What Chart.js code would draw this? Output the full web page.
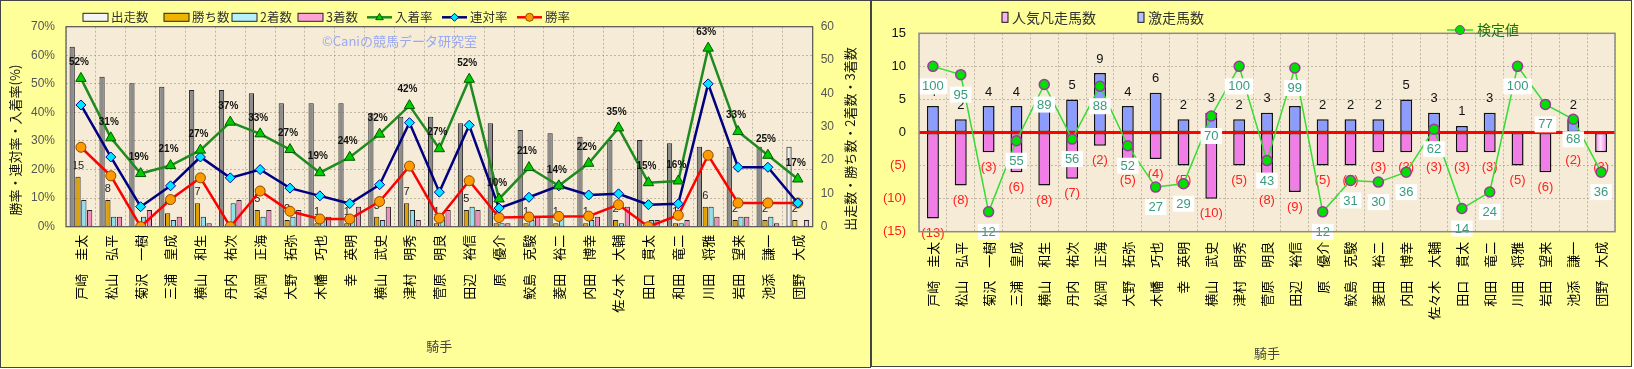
<!DOCTYPE html>
<html><head><meta charset="utf-8">
<script src="https://cdn.jsdelivr.net/npm/chart.js@4"></script>
<style>
html,body{margin:0;padding:0;background:#fff;}
#w1{position:absolute;left:0;top:0;width:871px;height:368px;box-sizing:border-box;border:1px solid #444;background:#ffff99;}
#w2{position:absolute;left:871px;top:0;width:761px;height:367px;box-sizing:border-box;border:1px solid #444;background:#ffff99;}
canvas{display:block;}
</style></head><body>
<div id="w1"><canvas id="c1" width="869" height="366"></canvas></div>
<div id="w2"><canvas id="c2" width="759" height="365"></canvas></div>
<script>
// ---------- data ----------
const jockeys = ['戸崎　圭太','松山　弘平','菊沢　一樹','三浦　皇成','横山　和生','丹内　祐次','松岡　正海','大野　拓弥','木幡　巧也','幸　英明','横山　武史','津村　明秀','菅原　明良','田辺　裕信','原　優介','鮫島　克駿','菱田　裕二','内田　博幸','佐々木　大輔','田口　貫太','和田　竜二','川田　将雅','岩田　望来','池添　謙一','団野　大成'];
const starts  = [54,45,43,42,41,41,40,37,37,37,34,33,33,31,31,29,28,27,26,26,25,24,24,24,24];
const wins    = [15,8,0,4,7,0,5,2,1,1,3,7,1,5,1,1,1,1,2,0,1,6,2,2,2];
const seconds = [8,3,3,2,3,7,3,3,3,2,2,5,3,6,1,2,3,2,1,2,1,6,3,3,0];
const thirds  = [5,3,5,3,1,8,5,5,3,6,6,2,5,5,1,3,0,3,6,2,2,3,3,1,2];
const winRate    = [27.8,17.8,0,9.5,17.1,0,12.5,5.4,2.7,2.7,8.8,21.2,3.0,16.1,3.2,3.4,3.6,3.7,7.7,0,4.0,25.0,8.3,8.3,8.3];
const rentaiRate = [42.6,24.4,7.0,14.3,24.4,17.1,20.0,13.5,10.8,8.1,14.7,36.4,12.1,35.5,6.5,10.3,14.3,11.1,11.5,7.7,8.0,50.0,20.8,20.8,8.3];
const placeRate  = [51.9,31.1,18.6,21.4,26.8,36.6,32.5,27.0,18.9,24.3,32.4,42.4,27.3,51.6,9.7,20.7,14.3,22.2,34.6,15.4,16.0,62.5,33.3,25.0,16.7];
const shadedJockeys = ['和田　竜二','池添　謙一','団野　大成'];

const popularFail = [-13,-8,-3,-6,-8,-7,-2,-5,-4,-5,-10,-5,-8,-9,-5,-5,-3,-3,-3,-3,-3,-5,-6,-2,-3];
const surge       = [4,2,4,4,5,5,9,4,6,2,3,2,3,4,2,2,2,5,3,1,3,0,2,2,0];
const testValue   = [100,95,12,55,89,56,88,52,27,29,70,100,43,99,12,31,30,36,62,14,24,100,77,68,36];

const leftTicks  = [0,10,20,30,40,50,60,70];
const rightTicks = [0,10,20,30,40,50,60];
const r2Ticks    = [-15,-10,-5,0,5,10,15];

// ---------- helpers ----------
const JP = "'Noto Sans CJK JP', sans-serif";
const NUM = "'Liberation Sans', Arial, sans-serif";
const PLOT_BG = '#f5ebd6';
const GRID = 'rgba(150,140,120,0.55)';

function vText(ctx, text, x, y, font, color){
  ctx.save(); ctx.translate(x, y); ctx.rotate(-Math.PI/2);
  ctx.font = font; ctx.fillStyle = color; ctx.textAlign = 'center'; ctx.textBaseline = 'middle';
  ctx.fillText(text, 0, 0); ctx.restore();
}
function drawMarker(ctx, style, x, y, r, fill, stroke){
  ctx.save(); ctx.fillStyle = fill; ctx.strokeStyle = stroke; ctx.lineWidth = 1;
  ctx.beginPath();
  if (style === 'triangle'){ ctx.moveTo(x, y - r); ctx.lineTo(x + r*0.95, y + r*0.6); ctx.lineTo(x - r*0.95, y + r*0.6); ctx.closePath(); }
  else if (style === 'rectRot'){ ctx.moveTo(x, y - r); ctx.lineTo(x + r, y); ctx.lineTo(x, y + r); ctx.lineTo(x - r, y); ctx.closePath(); }
  else { ctx.arc(x, y, r, 0, Math.PI*2); }
  ctx.fill(); ctx.stroke(); ctx.restore();
}
// cylinder-like shading for bars: edge colour -> light centre -> edge colour
function shadeBars(chart, dsIndex, edgeFn, centre){
  const ctx = chart.ctx, meta = chart.getDatasetMeta(dsIndex);
  meta.data.forEach((el, i) => {
    const edge = edgeFn(i);
    const w = el.width || 1;
    const g = ctx.createLinearGradient(el.x - w/2, 0, el.x + w/2, 0);
    g.addColorStop(0, edge); g.addColorStop(0.45, centre); g.addColorStop(1, edge);
    el.options.backgroundColor = g;
  });
}

// ---------- left chart ----------
const leftPlugin = {
  id: 'leftDeco',
  beforeDraw(chart){
    const {ctx, chartArea:a} = chart;
    ctx.save(); ctx.fillStyle = PLOT_BG; ctx.fillRect(a.left, a.top, a.right-a.left, a.bottom-a.top); ctx.restore();
  },
  beforeDatasetsDraw(chart){
    const ctx = chart.ctx;
    ctx.save(); ctx.font = '13px ' + JP; ctx.fillStyle = '#9aa8f2'; ctx.textBaseline = 'middle';
    ctx.fillText('©Caniの競馬データ研究室', 321, 40); ctx.restore();
  },
  beforeDatasetDraw(chart, args){
    if (args.index === 3) shadeBars(chart, 3, i => shadedJockeys.includes(jockeys[i]) ? '#8c8c8c' : '#cfcfcf', '#ffffff');
    if (args.index === 4) shadeBars(chart, 4, () => '#e0a000', '#ffd84a');
    if (args.index === 5) shadeBars(chart, 5, () => '#8fe0f0', '#e8fcff');
    if (args.index === 6) shadeBars(chart, 6, () => '#f08cc0', '#ffd0ea');
  },
  afterDatasetDraw(chart, args){
    if (args.index !== 4) return;
    const ctx = chart.ctx, meta = chart.getDatasetMeta(4);
    ctx.save(); ctx.font = '11px ' + NUM; ctx.fillStyle = '#222'; ctx.textAlign = 'center'; ctx.textBaseline = 'middle';
    meta.data.forEach((el, i) => { if (wins[i] > 0) ctx.fillText(String(wins[i]), el.x, el.y - 11); });
    ctx.restore();
  },
  afterDatasetsDraw(chart){
    const ctx = chart.ctx, meta = chart.getDatasetMeta(0);
    ctx.save(); ctx.font = 'bold 10px ' + NUM; ctx.fillStyle = '#111'; ctx.textAlign = 'center'; ctx.textBaseline = 'middle';
    meta.data.forEach((el, i) => ctx.fillText(Math.round(placeRate[i]) + '%', el.x - 2, el.y - 16));
    ctx.restore();
  },
  afterDraw(chart){
    const {ctx, chartArea:a} = chart;
    ctx.save(); ctx.strokeStyle = '#555'; ctx.lineWidth = 1.2;
    ctx.strokeRect(a.left, a.top, a.right-a.left, a.bottom-a.top); ctx.restore();
    vText(ctx, '勝率・連対率・入着率(%)', 14, 139, '13px ' + JP, '#111');
    vText(ctx, '出走数・勝ち数・2着数・3着数', 849, 138, '13px ' + JP, '#111');
    const items = [
      {x:82,  t:'bar', ds:3, c:'#f4f4f4'}, {x:163, t:'bar', ds:4, c:'#f0b400'}, {x:231, t:'bar', ds:5, c:'#b6f0fa'}, {x:297, t:'bar', ds:6, c:'#ffa2d4'},
      {x:366, t:'line', ds:0}, {x:441, t:'line', ds:1}, {x:516, t:'line', ds:2}
    ];
    const y = 16.3;
    ctx.save(); ctx.font = '12.5px ' + JP; ctx.textBaseline = 'middle';
    items.forEach(it => {
      const ds = chart.data.datasets[it.ds];
      if (it.t === 'bar'){
        ctx.fillStyle = it.c; ctx.fillRect(it.x, y - 4, 25, 8);
        ctx.strokeStyle = '#222'; ctx.lineWidth = 1; ctx.strokeRect(it.x, y - 4, 25, 8);
      } else {
        ctx.strokeStyle = ds.borderColor; ctx.lineWidth = 2.5;
        ctx.beginPath(); ctx.moveTo(it.x, y); ctx.lineTo(it.x + 25, y); ctx.stroke();
        drawMarker(ctx, ds.pointStyle, it.x + 12.5, y, 4, ds.pointBackgroundColor, ds.pointBorderColor);
      }
      ctx.fillStyle = '#333';
      ctx.fillText(ds.label, it.x + 28, y);
    });
    ctx.restore();
  }
};

const barOpts = {yAxisID:'y1', borderColor:'#222', borderWidth:1, borderSkipped:false, categoryPercentage:0.78, barPercentage:0.9, order:1};

new Chart(document.getElementById('c1'), {
  type: 'bar',
  data: {
    labels: jockeys,
    datasets: [
      {type:'line', label:'入着率', data:placeRate, yAxisID:'y', borderColor:'#1f8a1f', borderWidth:2.5, pointStyle:'triangle', pointRadius:6, pointBackgroundColor:'#00cc00', pointBorderColor:'#005a00', pointBorderWidth:1, order:0},
      {type:'line', label:'連対率', data:rentaiRate, yAxisID:'y', borderColor:'#000080', borderWidth:2.5, pointStyle:'rectRot', pointRadius:5, pointBackgroundColor:'#00e8ff', pointBorderColor:'#0000a0', pointBorderWidth:1, order:0},
      {type:'line', label:'勝率', data:winRate, yAxisID:'y', borderColor:'#ff0000', borderWidth:2.5, pointStyle:'circle', pointRadius:5, pointBackgroundColor:'#ff9a00', pointBorderColor:'#8a4a00', pointBorderWidth:1, order:0},
      Object.assign({label:'出走数', data:starts, backgroundColor:'#fafafa'}, barOpts),
      Object.assign({label:'勝ち数', data:wins, backgroundColor:'#f0b400'}, barOpts),
      Object.assign({label:'2着数', data:seconds, backgroundColor:'#b6f0fa'}, barOpts),
      Object.assign({label:'3着数', data:thirds, backgroundColor:'#ffa2d4'}, barOpts)
    ]
  },
  options: {
    responsive:false, animation:false,
    layout:{padding:{top:25.7, left:0, right:0, bottom:0}},
    plugins:{legend:{display:false}, tooltip:{enabled:false}},
    scales:{
      x:{
        grid:{color:GRID, drawTicks:false, offset:true}, border:{display:false, dash:[2,2]},
        ticks:{font:{family:JP, size:13}, color:'#000', minRotation:90, maxRotation:90, autoSkip:false, padding:8},
        title:{display:true, text:'騎手', font:{family:JP, size:13}, color:'#444', padding:{top:0, bottom:13}},
        afterFit: s => { s.height = 140.3; }
      },
      y:{
        position:'left', min:0, max:70,
        afterBuildTicks: s => { s.ticks = leftTicks.map(v => ({value:v})); },
        ticks:{callback: v => v + '%', font:{family:NUM, size:12}, color:'#555', padding:11},
        grid:{color:GRID, drawTicks:false}, border:{display:false, dash:[2,2]},
        afterFit: s => { s.width = 65; }
      },
      y1:{
        position:'right', min:0, max:60,
        afterBuildTicks: s => { s.ticks = rightTicks.map(v => ({value:v})); },
        ticks:{font:{family:NUM, size:12}, color:'#555', padding:8},
        grid:{display:false, drawTicks:false}, border:{display:false},
        afterFit: s => { s.width = 57.3; }
      }
    }
  },
  plugins:[leftPlugin]
});

// ---------- right chart ----------
const rightPlugin = {
  id: 'rightDeco',
  beforeDraw(chart){
    const {ctx, chartArea:a} = chart;
    ctx.save(); ctx.fillStyle = PLOT_BG; ctx.fillRect(a.left, a.top, a.right-a.left, a.bottom-a.top); ctx.restore();
  },
  beforeDatasetDraw(chart, args){
    if (args.index === 1) shadeBars(chart, 1, () => '#f07ee6', '#ffe2ff');
    if (args.index === 2) shadeBars(chart, 2, () => '#8c9cff', '#f0f2ff');
    if (args.index !== 0) return;
    const {ctx, chartArea:a} = chart;
    const y0 = chart.scales.y.getPixelForValue(0);
    ctx.save(); ctx.strokeStyle = '#ff0000'; ctx.lineWidth = 3;
    ctx.beginPath(); ctx.moveTo(a.left, y0); ctx.lineTo(a.right, y0); ctx.stroke();
    ctx.font = '13px ' + NUM; ctx.textAlign = 'center'; ctx.textBaseline = 'middle';
    const mPos = chart.getDatasetMeta(2), mNeg = chart.getDatasetMeta(1);
    mPos.data.forEach((el, i) => { if (surge[i] > 0){ ctx.fillStyle = '#111'; ctx.fillText(String(surge[i]), el.x, el.y - 14); } });
    mNeg.data.forEach((el, i) => { if (popularFail[i] < 0){ ctx.fillStyle = '#ff2020'; ctx.fillText('(' + (-popularFail[i]) + ')', el.x, el.y + 15); } });
    ctx.restore();
  },
  afterDatasetsDraw(chart){
    const ctx = chart.ctx, meta = chart.getDatasetMeta(0);
    ctx.save(); ctx.font = '13px ' + NUM; ctx.textAlign = 'center'; ctx.textBaseline = 'middle';
    meta.data.forEach((el, i) => {
      const t = String(testValue[i]); const w = ctx.measureText(t).width + 7;
      const cy = el.y + 20;
      ctx.fillStyle = '#ffffff'; ctx.fillRect(el.x - w/2, cy - 8, w, 16);
      ctx.fillStyle = '#3a9a7c'; ctx.fillText(t, el.x, cy + 0.5);
    });
    ctx.restore();
  },
  afterDraw(chart){
    const {ctx, chartArea:a} = chart;
    ctx.save(); ctx.strokeStyle = '#8a8a8a'; ctx.lineWidth = 1.5;
    ctx.strokeRect(a.left, a.top, a.right-a.left, a.bottom-a.top); ctx.restore();
    const y = 16.3;
    ctx.save(); ctx.font = '14px ' + JP; ctx.textBaseline = 'middle';
    const legendBars = [{x:130, ds:1, c:'#f6b4f2'}, {x:266, ds:2, c:'#b6c0ff'}];
    legendBars.forEach(it => {
      const ds = chart.data.datasets[it.ds];
      ctx.fillStyle = it.c; ctx.fillRect(it.x, y - 5, 6, 10);
      ctx.strokeStyle = '#111'; ctx.lineWidth = 1; ctx.strokeRect(it.x, y - 5, 6, 10);
      ctx.fillStyle = '#333'; ctx.fillText(ds.label, it.x + 10, y);
    });
    const ds0 = chart.data.datasets[0];
    const ly = 29;
    ctx.strokeStyle = ds0.borderColor; ctx.lineWidth = 1.5;
    ctx.beginPath(); ctx.moveTo(575, ly); ctx.lineTo(601, ly); ctx.stroke();
    drawMarker(ctx, 'circle', 588, ly, 4.5, ds0.pointBackgroundColor, ds0.pointBorderColor);
    ctx.fillStyle = '#1c6e1c'; ctx.fillText(ds0.label, 605, ly);
    ctx.restore();
  }
};

new Chart(document.getElementById('c2'), {
  type: 'bar',
  data: {
    labels: jockeys,
    datasets: [
      {type:'line', label:'検定値', data:testValue, yAxisID:'y2', borderColor:'#33dd33', borderWidth:1.5, pointRadius:5, pointBackgroundColor:'#00e000', pointBorderColor:'#9a3a9a', pointBorderWidth:1.5, order:0},
      {label:'人気凡走馬数', data:popularFail, yAxisID:'y', backgroundColor:'#f6b4f2', borderColor:'#111', borderWidth:1.5, borderSkipped:false, categoryPercentage:1, barPercentage:0.43, order:1},
      {label:'激走馬数', data:surge, yAxisID:'y', backgroundColor:'#b6c0ff', borderColor:'#111', borderWidth:1.5, borderSkipped:false, categoryPercentage:1, barPercentage:0.43, order:1}
    ]
  },
  options: {
    responsive:false, animation:false,
    layout:{padding:{top:32.3, left:0, right:16, bottom:0}},
    plugins:{legend:{display:false}, tooltip:{enabled:false}},
    scales:{
      x:{
        stacked:true,
        grid:{color:GRID, drawTicks:false, offset:true}, border:{display:false, dash:[2,2]},
        ticks:{font:{family:JP, size:13}, color:'#000', minRotation:90, maxRotation:90, autoSkip:false, padding:10},
        title:{display:true, text:'騎手', font:{family:JP, size:13}, color:'#444', padding:{top:0, bottom:5}},
        afterFit: s => { s.height = 134.3; }
      },
      y:{
        stacked:true, position:'left', min:-15, max:15,
        afterBuildTicks: s => { s.ticks = r2Ticks.map(v => ({value:v})); },
        ticks:{callback: v => v < 0 ? '(' + (-v) + ')' : String(v), font:{family:NUM, size:13},
               color: c => (c.tick && c.tick.value < 0) ? '#ff2020' : '#111', padding:13},
        grid:{color:GRID, drawTicks:false}, border:{display:false, dash:[2,2]},
        afterFit: s => { s.width = 47; }
      },
      y2:{display:false, min:0, max:120}
    }
  },
  plugins:[rightPlugin]
});
</script>
</body></html>
